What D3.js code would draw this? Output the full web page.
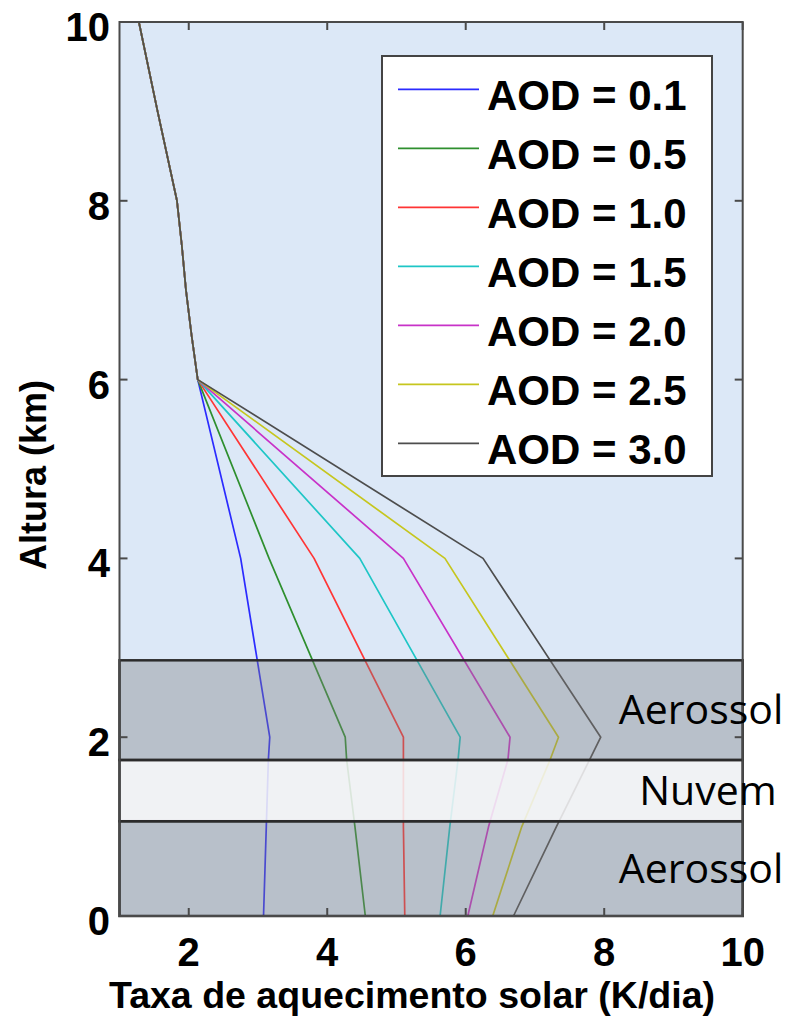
<!DOCTYPE html>
<html>
<head>
<meta charset="utf-8">
<script src="https://cdn.jsdelivr.net/npm/d3@7"></script>
<style>
    html, body { margin: 0; padding: 0; background: #ffffff; }
    svg text { font-family: "Liberation Sans", Arial, sans-serif; }
    .tickLabel { font-size: 40px; font-weight: bold; fill: #000; }
    .axisTitle { font-size: 36px; font-weight: bold; fill: #000; }
    .legendText { font-size: 42px; font-weight: bold; fill: #000; }
    .bandLabel { font-family: "Open Sans", sans-serif !important; font-size: 41px; fill: #000; }
</style>
</head>
<body>
<div id="chart"></div>
<script>
'use strict';

// altitude levels (km) shared by every run above 6 km
const upperLevels = [6.5, 7, 7.5, 8, 9, 10];
const upperRates = [2.04, 1.96, 1.90, 1.83, 1.55, 1.28];

// altitude levels (km) where the runs differ
const lowerLevels = [0, 1, 1.75, 2, 4, 6];

// heating rate (K/dia) at lowerLevels, one array per AOD
const aod01 = [3.08, 3.12, 3.15, 3.17, 2.75, 2.13];
const aod05 = [4.55, 4.40, 4.28, 4.26, 3.16, 2.13];
const aod10 = [5.12, 5.10, 5.10, 5.10, 3.81, 2.13];
const aod15 = [5.63, 5.77, 5.89, 5.92, 4.47, 2.13];
const aod20 = [6.03, 6.33, 6.61, 6.64, 5.10, 2.13];
const aod25 = [6.39, 6.81, 7.22, 7.34, 5.70, 2.13];
const aod30 = [6.69, 7.31, 7.79, 7.95, 6.25, 2.13];

const seriesLabels = ['AOD = 0.1', 'AOD = 0.5', 'AOD = 1.0', 'AOD = 1.5', 'AOD = 2.0', 'AOD = 2.5', 'AOD = 3.0'];
const seriesColors = ['#2b2bff', '#2e8f2e', '#ff3535', '#1ec6c6', '#c832c8', '#c6c61e', '#4d4d4d'];

// layers drawn over the profiles
const bandNames = ['Aerossol', 'Nuvem', 'Aerossol'];
const bandBottoms = [0, 1.06, 1.745];
const bandTops = [1.06, 1.745, 2.86];

const xTicks = [2, 4, 6, 8, 10];
const yTicks = [0, 2, 4, 6, 8, 10];

class HeatingChart {

    constructor(_ref) {
        this.parent = _ref;

        // stitch lower and shared upper profile together
        const allSeries = [aod01, aod05, aod10, aod15, aod20, aod25, aod30];
        this.data = allSeries.map((vals, i) => {
            const pts = lowerLevels.map((alt, j) => ({alt: alt, rate: vals[j]}));
            upperLevels.forEach((alt, j) => pts.push({alt: alt, rate: upperRates[j]}));
            return {label: seriesLabels[i], color: seriesColors[i], points: pts};
        });

        this.initVis();
    }

    initVis() {
        const vis = this;

        vis.w = 787;
        vis.h = 1021;

        vis.svg = d3.select(`#${vis.parent}`)
            .append('svg')
            .attr('width', vis.w)
            .attr('height', vis.h);

        // plot box
        vis.left = 119.5;
        vis.right = 742.7;
        vis.top = 22;
        vis.bottom = 916;

        vis.xScale = d3.scaleLinear()
            .domain([1, 10])
            .range([vis.left, vis.right]);

        vis.yScale = d3.scaleLinear()
            .domain([0, 10])
            .range([vis.bottom, vis.top]);

        vis.lineMaker = d3.line()
            .x(d => vis.xScale(d.rate))
            .y(d => vis.yScale(d.alt));

        vis.updateVis();
    }

    updateVis() {
        const vis = this;

        // background
        vis.svg.append('rect')
            .attr('x', vis.left)
            .attr('y', vis.top)
            .attr('width', vis.right - vis.left)
            .attr('height', vis.bottom - vis.top)
            .attr('fill', '#dce8f7');

        // profiles
        vis.svg.append('g')
            .attr('class', 'linesG')
            .selectAll('path')
            .data(vis.data)
            .join('path')
            .attr('d', d => vis.lineMaker(d.points))
            .attr('fill', 'none')
            .attr('stroke', d => d.color)
            .attr('stroke-width', 1.7)
            .attr('stroke-linejoin', 'round');

        // legend
        const legendG = vis.svg.append('g').attr('class', 'legendG');
        legendG.append('rect')
            .attr('x', 382)
            .attr('y', 56)
            .attr('width', 330)
            .attr('height', 420)
            .attr('fill', '#ffffff')
            .attr('stroke', '#444')
            .attr('stroke-width', 2);

        const rows = legendG.selectAll('.legendRow')
            .data(vis.data)
            .join('g')
            .attr('class', 'legendRow')
            .attr('transform', (d, i) => `translate(0, ${89.3 + i * 59})`);
        rows.append('line')
            .attr('x1', 398)
            .attr('x2', 479)
            .attr('stroke', d => d.color)
            .attr('stroke-width', 1.8);
        rows.append('text')
            .attr('class', 'legendText')
            .attr('x', 487)
            .attr('y', 21)
            .text(d => d.label);

        // aerosol / cloud layers
        const bandG = vis.svg.append('g').attr('class', 'bandG');
        bandNames.forEach((name, i) => {
            const yTop = vis.yScale(bandTops[i]);
            const yBot = vis.yScale(bandBottoms[i]);
            bandG.append('rect')
                .attr('x', vis.left)
                .attr('y', yTop)
                .attr('width', vis.right - vis.left)
                .attr('height', yBot - yTop)
                .attr('fill', name === 'Nuvem' ? 'rgba(242,242,244,0.88)' : 'rgba(125,125,130,0.38)')
                .attr('stroke', '#2b2b2b')
                .attr('stroke-width', 2.5);
        });

        // frame + ticks
        const frameG = vis.svg.append('g').attr('class', 'frameG');
        frameG.append('rect')
            .attr('x', vis.left)
            .attr('y', vis.top)
            .attr('width', vis.right - vis.left)
            .attr('height', vis.bottom - vis.top)
            .attr('fill', 'none')
            .attr('stroke', '#4a4a4a')
            .attr('stroke-width', 2);

        const tickLen = 8;
        xTicks.forEach(t => {
            const x = vis.xScale(t);
            frameG.append('line').attr('x1', x).attr('x2', x)
                .attr('y1', vis.bottom).attr('y2', vis.bottom - tickLen);
            frameG.append('line').attr('x1', x).attr('x2', x)
                .attr('y1', vis.top).attr('y2', vis.top + tickLen);
            frameG.append('text')
                .attr('class', 'tickLabel')
                .attr('x', x)
                .attr('y', 966)
                .attr('text-anchor', 'middle')
                .text(t);
        });
        yTicks.forEach(t => {
            const y = vis.yScale(t);
            frameG.append('line').attr('x1', vis.left).attr('x2', vis.left + tickLen)
                .attr('y1', y).attr('y2', y);
            frameG.append('line').attr('x1', vis.right).attr('x2', vis.right - tickLen)
                .attr('y1', y).attr('y2', y);
            frameG.append('text')
                .attr('class', 'tickLabel')
                .attr('x', 110)
                .attr('y', y + 19)
                .attr('text-anchor', 'end')
                .text(t);
        });
        frameG.selectAll('line')
            .attr('stroke', '#4a4a4a')
            .attr('stroke-width', 2);

        // band labels
        bandNames.forEach((name, i) => {
            const yMid = (vis.yScale(bandTops[i]) + vis.yScale(bandBottoms[i])) / 2;
            vis.svg.append('text')
                .attr('class', 'bandLabel')
                .attr('x', name === 'Nuvem' ? 708 : 701)
                .attr('y', yMid + 14)
                .attr('text-anchor', 'middle')
                .text(name);
        });

        // axis titles
        vis.svg.append('text')
            .attr('class', 'axisTitle')
            .attr('x', 412)
            .attr('y', 1008)
            .attr('text-anchor', 'middle')
            .attr('textLength', 606)
            .attr('lengthAdjust', 'spacingAndGlyphs')
            .text('Taxa de aquecimento solar (K/dia)');

        vis.svg.append('text')
            .attr('class', 'axisTitle')
            .attr('transform', 'translate(46, 475) rotate(-90)')
            .attr('text-anchor', 'middle')
            .text('Altura (km)');
    }
}

new HeatingChart('chart');
</script>
</body>
</html>
